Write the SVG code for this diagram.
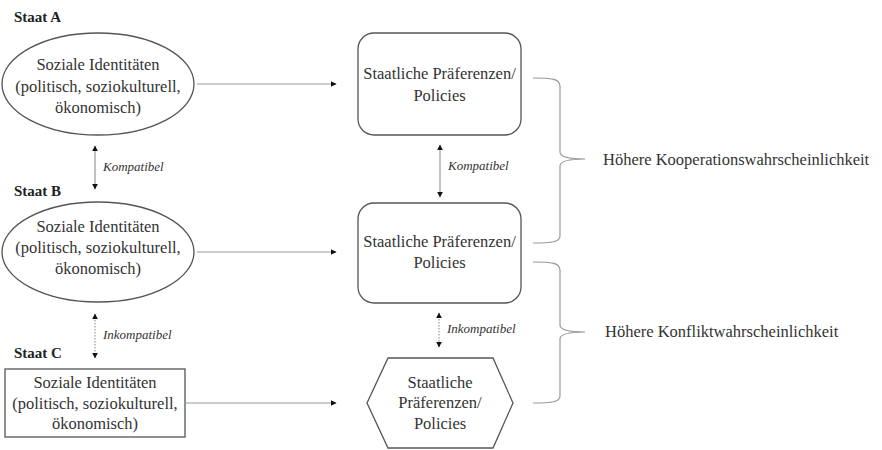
<svg xmlns="http://www.w3.org/2000/svg" width="882" height="450" viewBox="0 0 882 450">
<defs>
<style>
text{font-family:"Liberation Serif","DejaVu Serif",serif;fill:#333;}
.t{font-size:16.5px;text-anchor:middle;}
.s{font-size:15px;font-weight:bold;fill:#222;}
.k{font-size:13px;font-style:italic;}
.r{font-size:16.5px;}
.shape{fill:#fff;stroke:#555;stroke-width:1.3;}
.arr{stroke:#999;stroke-width:1.2;fill:none;}
.dot{stroke:#999;stroke-width:1.2;stroke-dasharray:1.5 1.5;fill:none;}
.brace{stroke:#999;stroke-width:1.2;fill:none;}
</style>
<marker id="ah" viewBox="0 0 10 10" refX="9" refY="5" markerWidth="6" markerHeight="6" orient="auto-start-reverse" markerUnits="userSpaceOnUse">
<path d="M0,0 L10,5 L0,10 Z" fill="#111"/>
</marker>
</defs>
<rect width="882" height="450" fill="#fff"/>

<text class="s" x="14" y="22">Staat A</text>
<text class="s" x="14" y="196">Staat B</text>
<text class="s" x="14" y="358">Staat C</text>

<g id="idA">
<ellipse class="shape" cx="98" cy="84" rx="96" ry="51"/>
<text class="t" x="98" y="70">Soziale Identitäten</text>
<text class="t" x="98" y="92">(politisch, soziokulturell,</text>
<text class="t" x="98" y="113">ökonomisch)</text>
</g>
<g id="idB">
<ellipse class="shape" cx="98" cy="252" rx="96" ry="50"/>
<text class="t" x="98" y="232">Soziale Identitäten</text>
<text class="t" x="98" y="253">(politisch, soziokulturell,</text>
<text class="t" x="98" y="274">ökonomisch)</text>
</g>
<g id="idC">
<rect class="shape" x="5" y="369" width="180" height="68"/>
<text class="t" x="95" y="388">Soziale Identitäten</text>
<text class="t" x="95" y="409">(politisch, soziokulturell,</text>
<text class="t" x="95" y="429">ökonomisch)</text>
</g>

<g id="prefA">
<rect class="shape" x="358" y="33" width="163" height="102" rx="16"/>
<text class="t" x="439.5" y="79">Staatliche Präferenzen/</text>
<text class="t" x="439.5" y="101">Policies</text>
</g>
<g id="prefB">
<rect class="shape" x="358" y="203" width="163" height="100" rx="16"/>
<text class="t" x="439.5" y="247">Staatliche Präferenzen/</text>
<text class="t" x="439.5" y="268">Policies</text>
</g>
<g id="prefC">
<polygon class="shape" points="388,358 493,358 513,403 493,448 388,448 367,403"/>
<text class="t" x="440" y="388">Staatliche</text>
<text class="t" x="440" y="408">Präferenzen/</text>
<text class="t" x="440" y="429">Policies</text>
</g>

<g id="connectors">
<line class="arr" x1="197" y1="84" x2="336" y2="84" marker-end="url(#ah)"/>
<line class="arr" x1="197" y1="252" x2="336" y2="252" marker-end="url(#ah)"/>
<line class="arr" x1="186" y1="403" x2="336" y2="403" marker-end="url(#ah)"/>
<line class="arr" x1="95" y1="146" x2="95" y2="189" marker-start="url(#ah)" marker-end="url(#ah)"/>
<line class="arr" x1="440" y1="145" x2="440" y2="197" marker-start="url(#ah)" marker-end="url(#ah)"/>
<line class="dot" x1="95" y1="314" x2="95" y2="358" marker-start="url(#ah)" marker-end="url(#ah)"/>
<line class="dot" x1="439" y1="313" x2="439" y2="347" marker-start="url(#ah)" marker-end="url(#ah)"/>
<text class="k" x="103" y="171">Kompatibel</text>
<text class="k" x="448" y="170">Kompatibel</text>
<text class="k" x="103" y="339">Inkompatibel</text>
<text class="k" x="447" y="333">Inkompatibel</text>
<path class="brace" d="M533,78 C552,78 560,79 560,86 L560,152 C560,157 568,159 585,159 C568,159 560,161 560,166 L560,236 C560,242 552,243 533,243"/>
<path class="brace" d="M533,262 C552,262 560,263 560,270 L560,325 C560,330 568,332 585,332 C568,332 560,334 560,339 L560,396 C560,402 552,403 533,403"/>
<text class="r" x="603" y="165">Höhere Kooperationswahrscheinlichkeit</text>
<text class="r" x="605" y="337">Höhere Konfliktwahrscheinlichkeit</text>
</g>
</svg>
